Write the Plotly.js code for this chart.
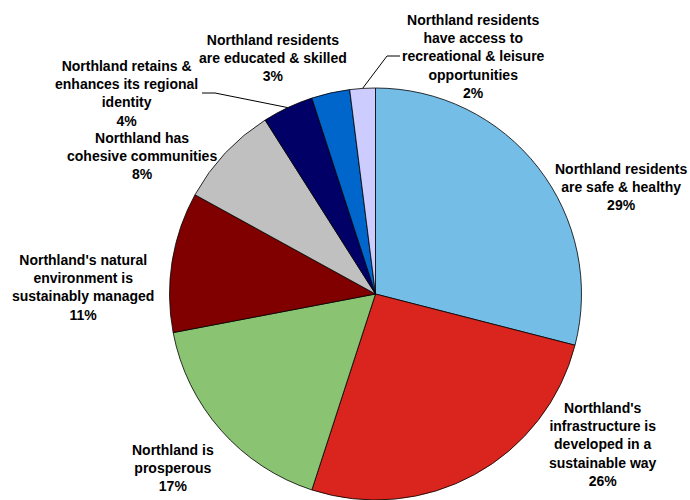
<!DOCTYPE html>
<html>
<head>
<meta charset="utf-8">
<script src="https://cdn.plot.ly/plotly-3.0.1.min.js"></script>
<style>html,body{margin:0;padding:0;background:#fff;}#chart{width:690px;height:500px;}</style>
</head>
<body>
<div id="chart"></div>
<script>
// ---- data ----
const categories = [
  "Northland residents<br>are safe & healthy",
  "Northland's<br>infrastructure is<br>developed in a<br>sustainable way",
  "Northland is<br>prosperous",
  "Northland's natural<br>environment is<br>sustainably managed",
  "Northland has<br>cohesive communities",
  "Northland retains &<br>enhances its regional<br>identity",
  "Northland residents<br>are educated & skilled",
  "Northland residents<br>have access to<br>recreational & leisure<br>opportunities"
];
const values = [29, 26, 17, 11, 8, 4, 3, 2];
const colors = ["#74BDE6", "#D9251D", "#8AC372", "#800000", "#C0C0C0", "#000066", "#0066CC", "#CCCCFF"];

// ---- layout helpers (pixel positions of label centres) ----
const W = 690, H = 500;
const labelPos = [
  [621, 187], [603, 444], [173, 468], [83, 287],
  [142, 156], [126, 94], [273, 58], [473, 57]
];
// leader line starts (only for small slices)
const leaderStart = {5: [[202, 93], [215, 93]], 7: [[400, 56], [387, 56]]};

const cx = 375.5, R = 206, cy = H - R; // pie centre in pixels (domain y from 0)
const dom = {x: [(cx - R) / W, (cx + R) / W], y: [0, 2 * R / H]};

const total = values.reduce((a, b) => a + b, 0);
const px = x => x / W, py = y => 1 - y / H;

const annotations = categories.map((c, i) => ({
  x: px(labelPos[i][0]), y: py(labelPos[i][1]), xref: 'paper', yref: 'paper',
  xanchor: 'center', yanchor: 'middle', showarrow: false, align: 'center',
  text: '<b>' + c + '<br>' + Math.round(values[i] / total * 100) + '%</b>',
  font: {family: 'Liberation Sans, Arial, sans-serif', size: 14, color: '#000'}
}));

const shapes = [];
let cum = 0;
values.forEach((v, i) => {
  const mid = (cum + v / 2) / total * 2 * Math.PI;
  cum += v;
  if (leaderStart[i]) {
    const ex = cx + R * Math.sin(mid), ey = cy - R * Math.cos(mid);
    const pts = leaderStart[i].concat([[ex, ey]]);
    const path = pts.map((p, k) => (k ? 'L' : 'M') + px(p[0]) + ',' + py(p[1])).join(' ');
    shapes.push({type: 'path', xref: 'paper', yref: 'paper', path: path,
      line: {color: '#000', width: 1}});
  }
});

const trace = {
  type: 'pie', labels: categories, values: values, sort: false,
  direction: 'clockwise', rotation: 0, textinfo: 'none', hoverinfo: 'none',
  marker: {colors: colors, line: {color: '#000', width: 0.8}},
  domain: dom, showlegend: false
};

Plotly.newPlot('chart', [trace], {
  width: W, height: H, margin: {l: 0, r: 0, t: 0, b: 0},
  paper_bgcolor: '#fff', plot_bgcolor: '#fff',
  annotations: annotations, shapes: shapes, showlegend: false
}, {staticPlot: true});
</script>
</body>
</html>
